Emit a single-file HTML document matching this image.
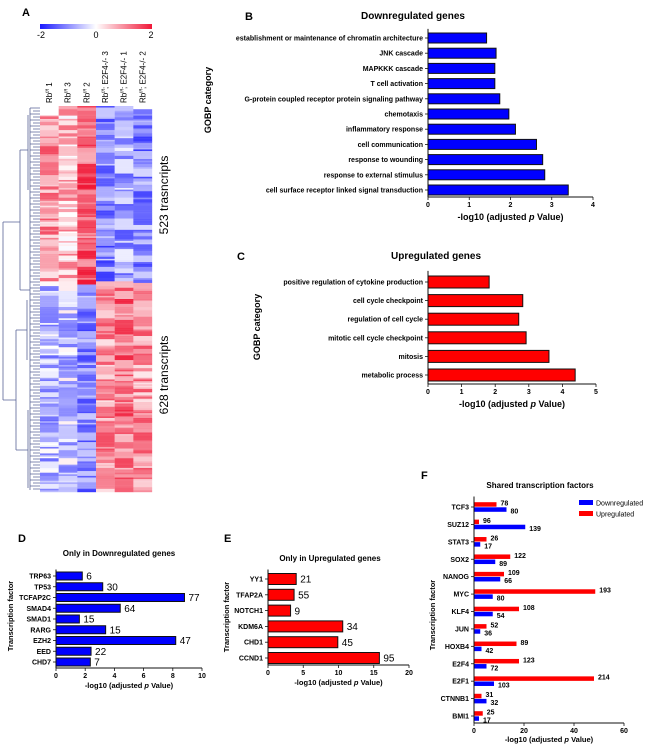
<!DOCTYPE html>
<html><head><meta charset="utf-8">
<style>
html,body{margin:0;padding:0;background:#fff;}
svg{display:block;font-family:"Liberation Sans",Arial,sans-serif;}
.b{font-weight:bold;}
</style></head>
<body>
<svg id="fig" width="650" height="749" viewBox="0 0 650 749" xmlns="http://www.w3.org/2000/svg">
<defs>
<linearGradient id="cbar" x1="0" x2="1" y1="0" y2="0">
<stop offset="0" stop-color="#1a1aff"/><stop offset="0.5" stop-color="#ffffff"/><stop offset="1" stop-color="#f01838"/>
</linearGradient>
</defs>
<g id="panelA">
<text x="22" y="16" font-size="11" class="b">A</text>
<rect x="40" y="24" width="112" height="5" fill="url(#cbar)"/>
<text x="41" y="38" font-size="9" text-anchor="middle">-2</text>
<text x="96" y="38" font-size="9" text-anchor="middle">0</text>
<text x="151" y="38" font-size="9" text-anchor="middle">2</text>
<g id="hmcols"></g>
<g id="heat"></g>
<g id="dendro" stroke="#5a6496" stroke-width="0.8" fill="none"></g>
<text transform="translate(168,195) rotate(-90)" font-size="12" text-anchor="middle">523 trasncripts</text>
<text transform="translate(168,375) rotate(-90)" font-size="12" text-anchor="middle">628 transcripts</text>
</g>
<g id="charts"></g>
</svg>
<script>
// ---- Panel B data ----
const bCats=["establishment or maintenance of chromatin architecture","JNK cascade","MAPKKK cascade","T cell activation","G-protein coupled receptor protein signaling pathway","chemotaxis","inflammatory response","cell communication","response to wounding","response to external stimulus","cell surface receptor linked signal transduction"];
const bVals=[1.42,1.65,1.62,1.62,1.74,1.96,2.12,2.63,2.78,2.83,3.4];
const bTicks=[0,1,2,3,4];
// ---- Panel C data ----
const cCats=["positive regulation of cytokine production","cell cycle checkpoint","regulation of cell cycle","mitotic cell cycle checkpoint","mitosis","metabolic process"];
const cVals=[1.82,2.82,2.7,2.92,3.6,4.38];
const cTicks=[0,1,2,3,4,5];
// ---- Panel D data ----
const dCats=["TRP63","TP53","TCFAP2C","SMAD4","SMAD1","RARG","EZH2","EED","CHD7"];
const dVals=[1.8,3.2,8.8,4.4,1.6,3.4,8.2,2.4,2.35];
const dCounts=["6","30","77","64","15","15","47","22","7"];
const dTicks=[0,2,4,6,8,10];
// ---- Panel E data ----
const eCats=["YY1","TFAP2A","NOTCH1","KDM6A","CHD1","CCND1"];
const eVals=[4,3.7,3.2,10.6,9.9,15.8];
const eCounts=["21","55","9","34","45","95"];
const eTicks=[0,5,10,15,20];
// ---- Panel F data ----
const fCats=["TCF3","SUZ12","STAT3","SOX2","NANOG","MYC","KLF4","JUN","HOXB4","E2F4","E2F1","CTNNB1","BMI1"];
const fUp=[9,2,5,14.5,12,48.5,18,5,17,18,48,3,3.5];
const fDown=[13,20.5,2.5,8.5,10.5,7.5,7.5,2.5,3,5,8,5,2];
const fUpCounts=["78","96","26","122","109","193","108","52","89","123","214","31","25"];
const fDownCounts=["80","139","17","89","66","80","54","36","42","72","103","32","17"];
const fTicks=[0,20,40,60];

const NS="http://www.w3.org/2000/svg";
function mk(tag,attrs,parent,txt){const e=document.createElementNS(NS,tag);for(const k in attrs)e.setAttribute(k,attrs[k]);if(txt!==undefined)e.textContent=txt;parent.appendChild(e);return e;}
const charts=document.getElementById('charts');

function hbar(cfg){
  const g=mk('g',{},charts);
  
  
  const sx=v=>cfg.x0+(v-cfg.ticks[0])/(cfg.ticks[cfg.ticks.length-1]-cfg.ticks[0])*(cfg.x1-cfg.x0);
  const n=cfg.cats.length;
  const sy=i=>cfg.yTop+i*(cfg.yBot-cfg.yTop)/(n-1);
  cfg.cats.forEach((c,i)=>{
    const y=sy(i);
    if(cfg.vals2){
      const r=mk('rect',{x:sx(0),y:y-cfg.bh-0.3,width:sx(cfg.vals[i])-sx(0),height:cfg.bh,fill:'#ff0000'},g);
      
      
      const r2=mk('rect',{x:sx(0),y:y+0.3,width:sx(cfg.vals2[i])-sx(0),height:cfg.bh,fill:'#0000ff'},g);
      
      
      const t1=mk('text',{x:sx(cfg.vals[i])+4,y:y-1.5,'font-size':7,'font-weight':'bold'},g,cfg.counts[i]);
      
      
      const t2=mk('text',{x:sx(cfg.vals2[i])+4,y:y+6.5,'font-size':7,'font-weight':'bold'},g,cfg.counts2[i]);
      
      
    } else {
      const r=mk('rect',{x:sx(0),y:y-cfg.bh/2,width:sx(cfg.vals[i])-sx(0),height:cfg.bh,fill:cfg.color,stroke:'#111','stroke-width':1},g);
      
      
      if(cfg.counts){
        const t=mk('text',{x:sx(cfg.vals[i])+4,y:y+3.7,'font-size':10},g,cfg.counts[i]);
        
        
      }
    }
    mk('line',{x1:cfg.x0-3,x2:cfg.x0,y1:y,y2:y,stroke:'#111','stroke-width':0.8},g);
    const l=mk('text',{x:cfg.x0-5,y:y+2.5,'font-size':cfg.fs,'font-weight':'bold','text-anchor':'end'},g,c);
    
    
  });
  const ay=cfg.axisY;
  mk('line',{x1:cfg.x0,x2:cfg.x0,y1:cfg.yTop-(cfg.yBot-cfg.yTop)/(n-1)*0.6,y2:ay,stroke:'#111','stroke-width':1},g);
  mk('line',{x1:cfg.x0,x2:cfg.x1,y1:ay,y2:ay,stroke:'#111','stroke-width':1},g);
  cfg.ticks.forEach(t=>{
    mk('line',{x1:sx(t),x2:sx(t),y1:ay,y2:ay+3,stroke:'#111','stroke-width':0.8},g);
    const tl=mk('text',{x:sx(t),y:ay+10,'font-size':7,'font-weight':'bold','text-anchor':'middle'},g,String(t));
    
    
  });
  const xt=mk('text',{x:(cfg.x0+cfg.x1)/2,y:ay+cfg.xtOff,'font-size':cfg.xtfs,'font-weight':'bold','text-anchor':'middle'},g);
  
  
  mk('tspan',{},xt,'-log10 (adjusted ');
  mk('tspan',{'font-style':'italic'},xt,'p');
  mk('tspan',{},xt,' Value)');
  const tt=mk('text',{x:cfg.titleX,y:cfg.titleY,'font-size':cfg.tfs,'font-weight':'bold','text-anchor':'middle'},g,cfg.title);
  
  
  const pl=mk('text',{x:cfg.lx,y:cfg.ly,'font-size':11,'font-weight':'bold'},g,cfg.letter);
  
  
  if(cfg.ytitle){
    const yt=mk('text',{transform:`translate(${cfg.ytx},${cfg.yty}) rotate(-90)`,'font-size':cfg.ytfs,'font-weight':'bold','text-anchor':'middle'},g,cfg.ytitle);
    
    
  }
  return g;
}

hbar({name:'chart-downregulated-gobp',cats:bCats,vals:bVals,ticks:bTicks,x0:428,x1:593,yTop:38,yBot:190,bh:10,axisY:197,color:'#0000ff',fs:7,xtOff:23,xtfs:9,tfs:10,title:'Downregulated genes',titleX:413,titleY:19,letter:'B',lx:245,ly:20,ytitle:'GOBP category',ytx:211,yty:100,ytfs:9});
hbar({name:'chart-upregulated-gobp',cats:cCats,vals:cVals,ticks:cTicks,x0:428,x1:596,yTop:282,yBot:375,bh:12,axisY:384,color:'#ff0000',fs:7,xtOff:23,xtfs:9,tfs:10,title:'Upregulated genes',titleX:436,titleY:259,letter:'C',lx:237,ly:260,ytitle:'GOBP category',ytx:260,yty:327,ytfs:9});
hbar({name:'chart-only-downregulated-tf',cats:dCats,vals:dVals,counts:dCounts,ticks:dTicks,x0:56,x1:202,yTop:576,yBot:662,bh:8,axisY:668,color:'#0000ff',fs:7,xtOff:20,xtfs:7.5,tfs:8,title:'Only in Downregulated genes',titleX:119,titleY:556,letter:'D',lx:18,ly:542,ytitle:'Transcription factor',ytx:13,yty:616,ytfs:7.5});
hbar({name:'chart-only-upregulated-tf',cats:eCats,vals:eVals,counts:eCounts,ticks:eTicks,x0:268,x1:409,yTop:579,yBot:658,bh:11,axisY:665,color:'#ff0000',fs:7,xtOff:20,xtfs:7.5,tfs:8,title:'Only in Upregulated genes',titleX:330,titleY:561,letter:'E',lx:224,ly:542,ytitle:'Transcription factor',ytx:229,yty:617,ytfs:7.5});
hbar({name:'chart-shared-tf',cats:fCats,vals:fUp,vals2:fDown,counts:fUpCounts,counts2:fDownCounts,ticks:fTicks,x0:474,x1:624,yTop:507,yBot:716,bh:4.5,axisY:723,fs:7,xtOff:19,xtfs:7.5,tfs:8,title:'Shared transcription factors',titleX:540,titleY:488,letter:'F',lx:421,ly:479,ytitle:'Transcription factor',ytx:435,yty:615,ytfs:7.5});

// legend F
(function(){
  const g=mk('g',{},charts);
  
  
  const r1=mk('rect',{x:579,y:500,width:14,height:5,fill:'#0000ff'},g);
  
  
  const t1=mk('text',{x:596,y:505.5,'font-size':7},g,'Downregulated');
  
  
  const r2=mk('rect',{x:579,y:511,width:14,height:5,fill:'#ff0000'},g);
  
  
  const t2=mk('text',{x:596,y:516.5,'font-size':7},g,'Upregulated');
  
  
})();

// heatmap column labels
(function(){
  const g=document.getElementById('hmcols');
  const labs=[["Rb","f/f"," 1"],["Rb","f/f"," 3"],["Rb","f/f"," 2"],["Rb","f/f","; E2F4-/- 3"],["Rb","f/f","; E2F4-/- 1"],["Rb","f/f","; E2F4-/- 2"]];
  labs.forEach((l,i)=>{
    const x=40+i*18.67+12;
    const t=mk('text',{transform:`translate(${x},103) rotate(-90)`,'font-size':8},g);
    
    
    mk('tspan',{},t,l[0]);
    mk('tspan',{'font-size':4.5,dy:-3},t,l[1]);
    mk('tspan',{dy:3},t,l[2]);
  });
})();

// heatmap texture (seeded)
(function(){
  const g=document.getElementById('heat');
  
  
  let s=12345;const rnd=()=>{s=(s*1103515245+12345)&0x7fffffff;return s/0x7fffffff;};
  const topMean=[0.9,0.6,1.4,-1.0,-0.8,-1.0];
  const botMean=[-0.6,-0.5,-1.0,0.9,1.2,0.9];
  const rows=240,y0=106,h=386/rows,split=Math.round(rows*0.455);
  function col(v){v=Math.max(-2,Math.min(2,v))/2;
    if(v<0){const a=-v;return `rgb(${Math.round(255-235*a)},${Math.round(255-235*a)},255)`;}
    return `rgb(${Math.round(255-15*v)},${Math.round(255-230*v)},${Math.round(255-200*v)})`;}
  let frag='';
  let prev=[0,0,0,0,0,0];
  for(let r=0;r<rows;r++){
    const m=r<split?topMean:botMean;
    for(let c=0;c<6;c++){
      const nv=m[c]+(rnd()-0.5)*1.4;
      const v=rnd()<0.5?prev[c]:nv;
      prev[c]=v;
      frag+=`<rect x="${(40+c*18.67).toFixed(2)}" y="${(y0+r*h).toFixed(2)}" width="18.8" height="${(h+0.2).toFixed(2)}" fill="${col(v)}"/>`;
    }
  }
  g.innerHTML=frag;
  // dendrogram
  const d=document.getElementById('dendro');
  
  
  let p='M3,222 V400 M3,222 H20 M3,400 H16 M20,150 V290 M16,330 V450 M20,150 H28 M20,290 H30 M16,330 H27 M16,450 H28 M28,115 V190 M30,255 V282 M27,300 V360 M28,410 V488';
  for(let y=108;y<490;y+=3){p+=` M${30+((y*7)%6)},${y} H40`;}
  p+=' M30,108 V490';
  d.innerHTML=`<path d="${p}"/>`;
})();
</script>
</body></html>
